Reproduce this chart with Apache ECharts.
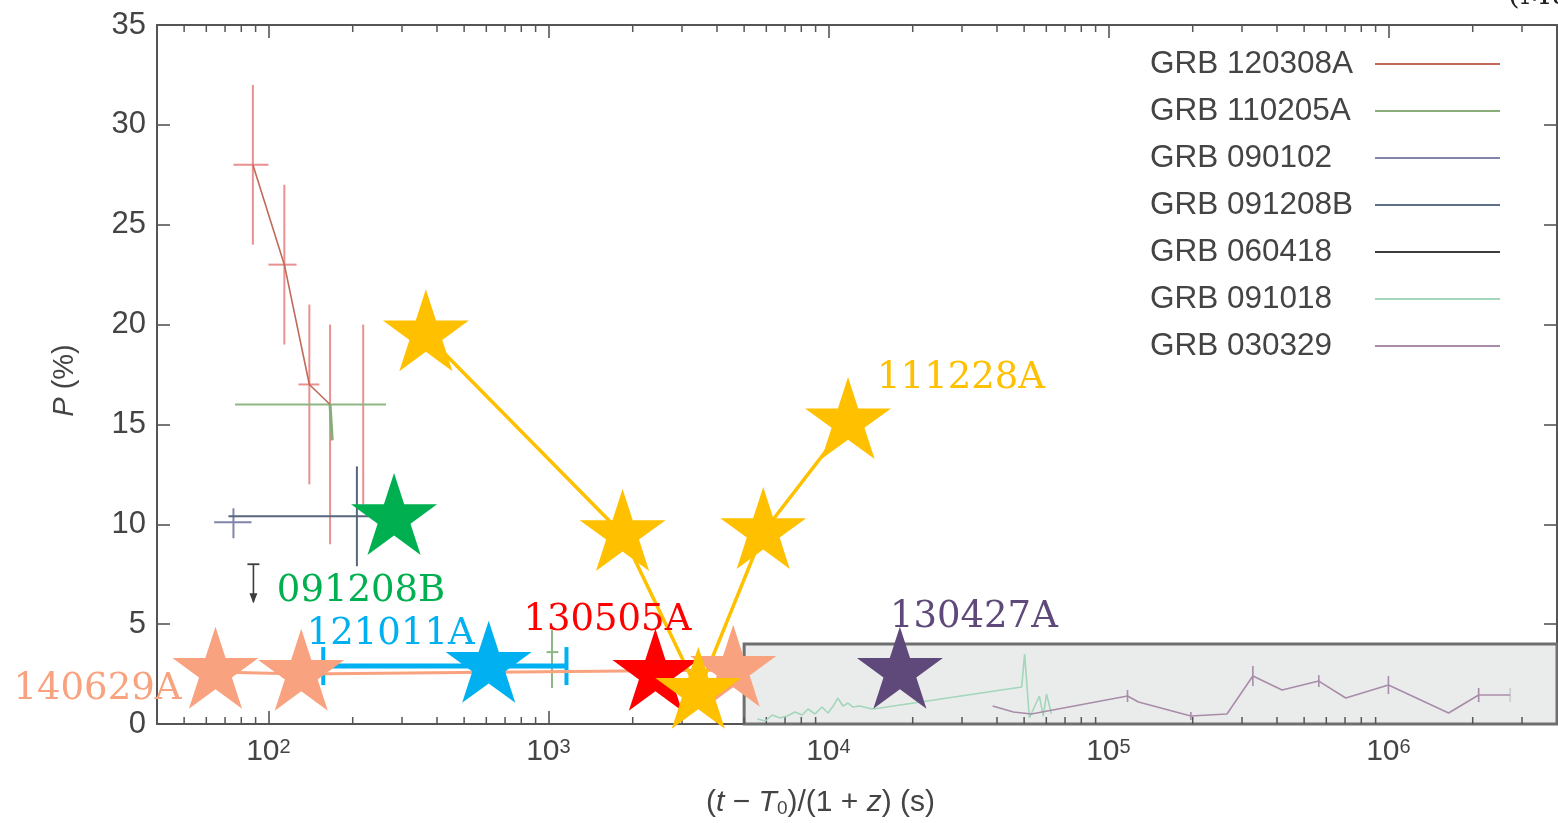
<!DOCTYPE html>
<html>
<head>
<meta charset="utf-8">
<script src="https://cdn.jsdelivr.net/npm/echarts@6.0.0/dist/echarts.min.js"></script>
<style>
  html, body { margin: 0; padding: 0; background: #ffffff; }
  #chart { width: 1558px; height: 823px; }
</style>
</head>
<body>
<div id="chart"></div>
<script>
// ---- axis extents ----
const X_MIN = 40, X_MAX = 4e6;
const Y_MIN = 0, Y_MAX = 35, Y_STEP = 5;
// shaded late-time region (rest-frame seconds, polarisation %)
const BOX_T0 = 5000, BOX_P = 4;

// ---- literature light curves (thin lines) ----
// GRB 120308A
const t120308 = [88, 114, 140, 166];
const p120308 = [28, 23, 17, 16];
const p120308Lo = [24, 19, 12, 9];
const p120308Hi = [32, 27, 21, 20];
const t120308Lo = [75, 100, 128, null];
const t120308Hi = [100, 126, 152, null];
// last GRB 120308A bin: vertical range only
const t120308Last = [218];
const p120308Last = [15.5];
const p120308LastLo = [11];
const p120308LastHi = [20];

// GRB 110205A
const t110205 = [166, 169, 1030];
const p110205 = [16, 14.2, 3.6];
const t110205Lo = [76, null, 985];
const t110205Hi = [263, null, 1085];
const p110205Lo = [null, null, 1.8];
const p110205Hi = [null, null, 4.7];

// GRB 090102
const t090102 = [75];
const p090102 = [10.1];
const t090102Lo = [64];
const t090102Hi = [87];
const p090102Lo = [9.3];
const p090102Hi = [10.8];

// GRB 091208B
const t091208 = [207];
const p091208 = [10.4];
const t091208Lo = [72];
const t091208Hi = [342];
const p091208Lo = [7.9];
const p091208Hi = [12.9];

// GRB 060418 (upper limit)
const t060418 = [88.4];
const p060418Limit = [8];
const p060418Arrow = [6.1];

// GRB 091018
const t091018 = [5570, 5950, 6300, 6730, 7120, 7600, 8050, 8460, 8960, 9480, 9970, 10400,
  10800, 11270, 11750, 12240, 12960, 14300, 15270, 49000, 50200, 52200, 56700, 58500, 60100, 62600];
const p091018 = [0.25, 0.15, 0.45, 0.3, 0.4, 0.6, 0.45, 0.75, 0.5, 0.85, 0.55, 0.9,
  1.3, 0.9, 1.05, 0.85, 0.9, 0.75, 0.8, 1.85, 3.5, 0.3, 1.4, 0.4, 1.5, 0.5];

// GRB 030329
const t030329 = [38600, 45800, 53100, 117000, 128000, 197000, 265000, 328000, 417000,
  564000, 704000, 1000000, 1640000, 2100000];
const p030329 = [0.9, 0.6, 0.5, 1.4, 1.1, 0.4, 0.5, 2.4, 1.7, 2.15, 1.3, 1.95, 0.55, 1.45];
const p030329Lo = [null, null, null, 1.1, null, 0.2, null, 1.9, null, 1.85, null, 1.5, null, 1.1];
const p030329Hi = [null, null, null, 1.7, null, 0.6, null, 2.9, null, 2.45, null, 2.4, null, 1.8];
const t030329Lo = [null, null, null, null, null, null, null, null, null, null, null, null, null, 2100000];
const t030329Hi = [null, null, null, null, null, null, null, null, null, null, null, null, null, 2720000];

// ---- highlighted bursts (stars) ----
const t111228 = [365, 1840, 3430, 5850, 11750];
const p111228 = [19.5, 9.5, 1.6, 9.6, 15.1];
const t140629 = [64.7, 131, 4570];
const p140629 = [2.6, 2.5, 2.7];
const t121011 = [612];
const p121011 = [2.9];
const t121011Lo = [157];
const t121011Hi = [1160];
const t091208Star = [281];
const p091208Star = [10.3];
const t130505 = [2410];
const p130505 = [2.5];
const t130427 = [18000];
const p130427 = [2.6];

const legendNames = ['GRB 120308A', 'GRB 110205A', 'GRB 090102', 'GRB 091208B',
  'GRB 060418', 'GRB 091018', 'GRB 030329'];

// ---- helpers ----
const zip = (...cols) => cols[0].map((_, i) => cols.map(c => (c[i] == null ? NaN : c[i])));
const pairs = (t, p) => t.map((v, i) => [v, p[i]]);

// five-pointed star outline
const STAR = (() => {
  const pts = [];
  for (let i = 0; i < 10; i++) {
    const r = i % 2 === 0 ? 50 : 50 * 0.381966;
    const a = -Math.PI / 2 + i * Math.PI / 5;
    pts.push((r * Math.cos(a)).toFixed(3) + ',' + (r * Math.sin(a)).toFixed(3));
  }
  return 'path://M' + pts.join('L') + 'Z';
})();
const STAR_SIZE = [86, 82];
const STAR_OFFSET = [0, '-5.3%'];

// error bars: [t, p, tLo, tHi, pLo, pHi]
function errorBars(name, data, color, width, capPx) {
  return {
    type: 'custom', name, z: 3, silent: true,
    data,
    encode: { x: 0, y: 1 },
    renderItem(params, api) {
      const t = api.value(0), p = api.value(1);
      const tLo = api.value(2), tHi = api.value(3), pLo = api.value(4), pHi = api.value(5);
      const style = { stroke: color, lineWidth: width };
      const kids = [];
      if (isFinite(pLo) && isFinite(pHi)) {
        const a = api.coord([t, pLo]), b = api.coord([t, pHi]);
        kids.push({ type: 'line', shape: { x1: a[0], y1: a[1], x2: b[0], y2: b[1] }, style });
      }
      if (isFinite(tLo) && isFinite(tHi)) {
        const a = api.coord([tLo, p]), b = api.coord([tHi, p]);
        kids.push({ type: 'line', shape: { x1: a[0], y1: a[1], x2: b[0], y2: b[1] }, style });
        if (capPx) {
          [a, b].forEach(c => kids.push({ type: 'line',
            shape: { x1: c[0], y1: c[1] - capPx, x2: c[0], y2: c[1] + capPx },
            style: { stroke: color, lineWidth: width - 1 } }));
        }
      }
      return { type: 'group', children: kids };
    }
  };
}

function thinLine(name, data, color, extra) {
  return Object.assign({
    type: 'line', name, data, z: 3, symbol: 'none', silent: true,
    lineStyle: { color, width: 1.6 }, itemStyle: { color }
  }, extra || {});
}

function starLabel(text, color, offset) {
  return {
    show: true, position: 'inside', offset, formatter: text,
    color, fontFamily: 'DejaVu Serif', fontSize: 37
  };
}

function starSeries(name, data, color, labelIndex, label, extra) {
  const items = data.map((d, i) => (i === labelIndex ? { value: d, label } : { value: d }));
  return Object.assign({
    type: 'line', name, data: items, z: 10, silent: true,
    symbol: STAR, symbolSize: STAR_SIZE, symbolOffset: STAR_OFFSET, symbolKeepAspect: false,
    showSymbol: true, showAllSymbol: true,
    itemStyle: { color, opacity: 1 },
    lineStyle: { color, width: 3 },
    label: { show: false }
  }, extra || {});
}

// minor (2..9) log ticks along top and bottom frame
const minorTicks = [];
for (let e = 1; e <= 6; e++) {
  for (let k = 2; k <= 9; k++) {
    const v = k * Math.pow(10, e);
    if (v > X_MIN && v < X_MAX) minorTicks.push([v, Y_MIN]);
  }
}

const AXIS_COLOR = '#555';
const TEXT_COLOR = '#444';
const SANS = 'Liberation Sans';

const chart = echarts.init(document.getElementById('chart'), null, { renderer: 'canvas' });

chart.setOption({
  animation: false,
  backgroundColor: '#ffffff',
  grid: { left: 157, right: 1, top: 25, bottom: 98, containLabel: false },
  legend: {
    data: legendNames.map(n => ({ name: n, icon: 'rect' })),
    orient: 'vertical', left: 1145, top: 43,
    align: 'right', itemWidth: 125, itemHeight: 2, itemGap: 15,
    selectedMode: false,
    formatter: n => '{n|' + n + '}',
    textStyle: {
      rich: { n: { width: 220, align: 'left', fontSize: 31.5, lineHeight: 30, color: TEXT_COLOR, fontFamily: SANS } }
    }
  },
  graphic: [{
    type: 'text', left: 1508, top: -19, silent: true,
    style: { text: '(Mundell et al. 2013)', font: '30px "DejaVu Serif"', fill: '#222' }
  }],
  xAxis: [{
    type: 'log', logBase: 10, min: X_MIN, max: X_MAX, position: 'bottom',
    axisLine: { show: true, onZero: false, lineStyle: { color: AXIS_COLOR, width: 2 } },
    axisTick: { show: true, inside: true, length: 13, lineStyle: { color: AXIS_COLOR, width: 1.6 } },
    splitLine: { show: false },
    axisLabel: {
      showMinLabel: false, showMaxLabel: false, margin: 13,
      formatter: v => '{b|10}{e|' + Math.round(Math.log10(v)) + '}',
      rich: {
        b: { fontSize: 30, lineHeight: 30, verticalAlign: 'bottom', color: TEXT_COLOR, fontFamily: SANS },
        e: { fontSize: 20, lineHeight: 20, verticalAlign: 'top', padding: [0, 0, 21, 0], color: TEXT_COLOR, fontFamily: SANS }
      }
    },
    name: '({i|t} \u2212 {i|T}{s|0})/(1 + {i|z}) (s)',
    nameLocation: 'middle', nameGap: 63,
    nameTextStyle: {
      fontSize: 30, color: TEXT_COLOR, fontFamily: SANS, padding: [0, 73, 0, 0],
      rich: {
        i: { fontSize: 30, fontStyle: 'italic', color: TEXT_COLOR, fontFamily: SANS },
        s: { fontSize: 19, verticalAlign: 'bottom', padding: [12, 0, 0, 0], color: TEXT_COLOR, fontFamily: SANS }
      }
    }
  }, {
    type: 'log', logBase: 10, min: X_MIN, max: X_MAX, position: 'top',
    axisLine: { show: true, onZero: false, lineStyle: { color: AXIS_COLOR, width: 2 } },
    axisTick: { show: true, inside: true, length: 13, lineStyle: { color: AXIS_COLOR, width: 1.6 } },
    axisLabel: { show: false }, splitLine: { show: false }
  }],
  yAxis: [{
    type: 'value', min: Y_MIN, max: Y_MAX, interval: Y_STEP, position: 'left',
    axisLine: { show: true, onZero: false, lineStyle: { color: AXIS_COLOR, width: 2 } },
    axisTick: { show: true, inside: true, length: 13, lineStyle: { color: AXIS_COLOR, width: 1.6 } },
    splitLine: { show: false },
    axisLabel: { fontSize: 31, color: TEXT_COLOR, fontFamily: SANS, margin: 11 },
    name: '{i|P} (%)', nameLocation: 'middle', nameGap: 78, nameRotate: 90,
    nameTextStyle: {
      fontSize: 29, color: TEXT_COLOR, fontFamily: SANS, padding: [0, 12, 0, 0],
      rich: { i: { fontSize: 29, fontStyle: 'italic', color: TEXT_COLOR, fontFamily: SANS } }
    }
  }, {
    type: 'value', min: Y_MIN, max: Y_MAX, interval: Y_STEP, position: 'right',
    axisLine: { show: true, onZero: false, lineStyle: { color: AXIS_COLOR, width: 2 } },
    axisTick: { show: true, inside: true, length: 13, lineStyle: { color: AXIS_COLOR, width: 1.6 } },
    axisLabel: { show: false }, splitLine: { show: false }
  }],
  series: [
    // shaded late-time region
    {
      type: 'line', data: [], z: 1, silent: true,
      markArea: {
        silent: true,
        itemStyle: { color: '#eaeceb', borderColor: '#6f6f6f', borderWidth: 3 },
        data: [[{ xAxis: BOX_T0, yAxis: Y_MIN }, { xAxis: X_MAX, yAxis: BOX_P }]]
      }
    },
    // minor ticks
    {
      type: 'custom', data: minorTicks, encode: { x: 0, y: 1 }, z: 2, silent: true, clip: false,
      renderItem(params, api) {
        const v = api.value(0);
        const b = api.coord([v, Y_MIN]), t = api.coord([v, Y_MAX]);
        const style = { stroke: AXIS_COLOR, lineWidth: 1.5 };
        return { type: 'group', children: [
          { type: 'line', shape: { x1: b[0], y1: b[1], x2: b[0], y2: b[1] - 7 }, style },
          { type: 'line', shape: { x1: t[0], y1: t[1], x2: t[0], y2: t[1] + 7 }, style }
        ] };
      }
    },

    // literature light curves
    thinLine('GRB 120308A', pairs(t120308, p120308), '#c06a58'),
    errorBars('120308A bars', zip(t120308, p120308, t120308Lo, t120308Hi, p120308Lo, p120308Hi), 'rgba(228,118,118,0.8)', 2),
    errorBars('120308A last bar', zip(t120308Last, p120308Last, [null], [null], p120308LastLo, p120308LastHi), 'rgba(228,118,118,0.8)', 2),

    thinLine('GRB 110205A', pairs(t110205.slice(0, 2), p110205.slice(0, 2)), '#88ad7a', { lineStyle: { color: '#88ad7a', width: 3 } }),
    errorBars('110205A bars', zip(t110205, p110205, t110205Lo, t110205Hi, p110205Lo, p110205Hi), '#8db884', 2),

    thinLine('GRB 090102', pairs(t090102, p090102), '#8185aa'),
    errorBars('090102 bars', zip(t090102, p090102, t090102Lo, t090102Hi, p090102Lo, p090102Hi), '#8185aa', 2),

    thinLine('GRB 091208B', pairs(t091208, p091208), '#5f7188'),
    errorBars('091208B bars', zip(t091208, p091208, t091208Lo, t091208Hi, p091208Lo, p091208Hi), '#56667c', 2),

    thinLine('GRB 060418', [[t060418[0], p060418Limit[0]], [t060418[0], p060418Arrow[0]]], '#3d3d3d'),
    {
      type: 'custom', name: '060418 limit', z: 3, silent: true,
      data: zip(t060418, p060418Limit, p060418Arrow), encode: { x: 0, y: 1 },
      renderItem(params, api) {
        const top = api.coord([api.value(0), api.value(1)]);
        const tip = api.coord([api.value(0), api.value(2)]);
        const st = { stroke: '#3d3d3d', lineWidth: 1.8 };
        return { type: 'group', children: [
          { type: 'line', shape: { x1: top[0] - 6, y1: top[1], x2: top[0] + 6, y2: top[1] }, style: st },
          { type: 'polygon', shape: { points: [[tip[0] - 4, tip[1] - 9], [tip[0] + 4, tip[1] - 9], [tip[0], tip[1] + 1]] },
            style: { fill: '#3d3d3d' } }
        ] };
      }
    },

    thinLine('GRB 091018', pairs(t091018, p091018), '#a3d6ba'),

    thinLine('GRB 030329', pairs(t030329, p030329), '#a88ca9'),
    errorBars('030329 bars', zip(t030329, p030329, t030329Lo, t030329Hi, p030329Lo, p030329Hi), '#a88ca9', 1.6, 7),

    // highlighted bursts
    errorBars('121011A bar', zip(t121011, p121011, t121011Lo, t121011Hi, [null], [null]), '#00b0f0', 5, 19),
    starSeries('121011A', pairs(t121011, p121011), '#00b0f0', 0, starLabel('121011A', '#00b0f0', [-98, -27])),
    starSeries('091208B star', pairs(t091208Star, p091208Star), '#00b050', 0, starLabel('091208B', '#00b050', [-33, 77])),
    starSeries('140629A', pairs(t140629, p140629), '#f9a27f', 0, starLabel('140629A', '#f9a27f', [-118, 22])),
    starSeries('130505A', pairs(t130505, p130505), '#ff0000', 0, starLabel('130505A', '#ff0000', [-48, -49])),
    starSeries('130427A', pairs(t130427, p130427), '#5f497a', 0, starLabel('130427A', '#5f497a', [74, -50])),
    starSeries('111228A', pairs(t111228, p111228), '#ffc000', 4, starLabel('111228A', '#ffc000', [113, -40]), { lineStyle: { color: '#ffc000', width: 3.5 } })
  ]
});
</script>
</body>
</html>
